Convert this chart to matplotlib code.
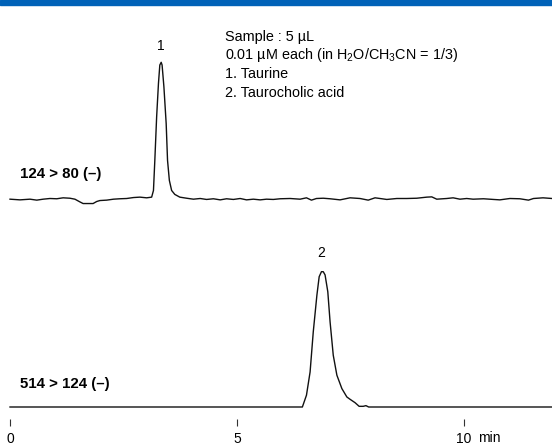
import matplotlib
matplotlib.use('Agg')
import matplotlib.pyplot as plt
from matplotlib.patches import Rectangle

plt.rcParams['font.family'] = ['Liberation Sans', 'DejaVu Sans']
plt.rcParams['mathtext.fontset'] = 'custom'
plt.rcParams['mathtext.rm'] = 'Liberation Sans'
plt.rcParams['font.size'] = 10

t_taurina = [0.00, 0.22, 0.44, 0.59, 0.73, 0.88, 1.03, 1.17, 1.32, 1.43, 1.54, 1.61, 1.83, 1.91,
             1.98, 2.13, 2.28, 2.42, 2.57, 2.72, 2.86, 3.01, 3.12, 3.16, 3.19, 3.23, 3.27, 3.30,
             3.33, 3.35, 3.39, 3.44, 3.47, 3.51, 3.56, 3.63, 3.74, 3.89, 4.04, 4.19, 4.33, 4.48,
             4.63, 4.77, 4.92, 5.07, 5.21, 5.36, 5.51, 5.65, 5.80, 5.95, 6.17, 6.39, 6.53, 6.64,
             6.75, 6.90, 7.05, 7.27, 7.49, 7.71, 7.89, 8.04, 8.15, 8.30, 8.52, 8.74, 8.96, 9.18,
             9.29, 9.40, 9.62, 9.76, 9.91, 10.06, 10.20, 10.43, 10.65, 10.79, 11.01, 11.23, 11.42,
             11.53, 11.74, 11.94]
i_taurina = [-0.5, -1.0, -0.5, -1.2, -0.5, 0.0, -0.2, 0.5, 0.2, -0.5, -2.5, -3.7, -3.7, -2.2,
             -1.5, -1.2, -0.5, -0.2, 0.0, 0.7, 1.0, 0.5, 1.0, 5.9, 28, 60, 84.5, 98,
             100, 98, 82, 55, 28, 13.3, 5.9, 3.0, 1.0, 0.2, -0.5, 0.0, -0.7, -0.2,
             -1.0, -0.2, -0.7, 0.0, -1.0, -0.5, -1.0, -0.5, -0.7, -0.2, 0.0, -0.5, 0.5, -1.2,
             0.0, 0.2, -0.2, -1.0, 0.5, 0.0, -1.2, 0.5, 0.0, -0.7, 0.0, 0.0, 0.2, 1.0,
             1.2, -0.5, 0.0, 0.5, -0.5, 0.0, -0.5, -0.2, -0.7, -1.0, 0.0, -0.2, -1.2,
             0.0, 0.5, 0.0]

t_tauro = [0.00, 6.44, 6.53, 6.61, 6.68, 6.76, 6.81, 6.86, 6.90, 6.94, 7.00, 7.05, 7.12, 7.20,
           7.31, 7.42, 7.49, 7.60, 7.69, 7.78, 7.84, 7.90, 11.94]
i_tauro = [0.0, 0.0, 8.7, 25.9, 55.6, 82.7, 96.3, 100, 100, 97.6, 85.2, 63, 38.3, 23.5,
           13.6, 7.4, 5.7, 3.2, 0.5, 0.5, 1.0, 0.0, 0.0]

etiquetas = ['124 > 80 (\u2013)', '514 > 124 (\u2013)']
picos = ['1', '2']
ticks = [0, 5, 10]
notas = ['Sample : 5 \u00b5L',
         '0.01 \u00b5M each (in H$_{\\mathregular{2}}$O/CH$_{\\mathregular{3}}$CN = 1/3)',
         '1. Taurine',
         '2. Taurocholic acid']

W, H = 552, 445
fig = plt.figure(figsize=(W / 100, H / 100), dpi=100)
xlim = (-10 / 45.4, 542 / 45.4)

ax1 = fig.add_axes([0, (H - 225) / H, 1, 210 / H])
ax2 = fig.add_axes([0, (H - 419) / H, 1, 189 / H])
ax1.set_ylim(-(225 - 198.5) / 1.362, (198.5 - 15) / 1.362)
ax2.set_ylim(-(419 - 407) / 1.353, (407 - 230) / 1.353)

datos = [(ax1, t_taurina, i_taurina), (ax2, t_tauro, i_tauro)]
for k, (ax, t, y) in enumerate(datos):
    ax.plot(t, y, color='#111111', linewidth=1.0)
    ax.set_xlim(xlim)
    for s in ax.spines.values():
        s.set_visible(False)
    ax.set_yticks([])
    imax = y.index(max(y))
    ax.annotate(picos[k], (t[imax], y[imax]), xytext=(0, 12 if k == 0 else 13.5),
                textcoords='offset points', ha='center', va='center', fontsize=10)

ax1.set_xticks([])
ax2.set_xticks(ticks)
ax2.set_xticklabels([str(v) for v in ticks])
ax2.tick_params(axis='x', direction='out', length=5, width=0.8, color='#333333', pad=4.5,
                labelsize=10)

fig.text(477.7 / W, 1 - 441.7 / H, 'min', va='baseline', ha='left', fontsize=10)

fig.text(20 / W, 1 - 174 / H, etiquetas[0], va='center', ha='left', fontweight='bold', fontsize=10.8)
fig.text(20 / W, 1 - 384 / H, etiquetas[1], va='center', ha='left', fontweight='bold', fontsize=10.8)

for i, linea in enumerate(notas):
    fig.text(225 / W, 1 - (40.7 + 18.7 * i) / H, linea, va='baseline', ha='left', fontsize=10.4)

fig.add_artist(Rectangle((0, 1 - 5 / H), 1, 5 / H, transform=fig.transFigure,
                         color='#0062B8', zorder=10))

fig.savefig('out.png', dpi=100)
